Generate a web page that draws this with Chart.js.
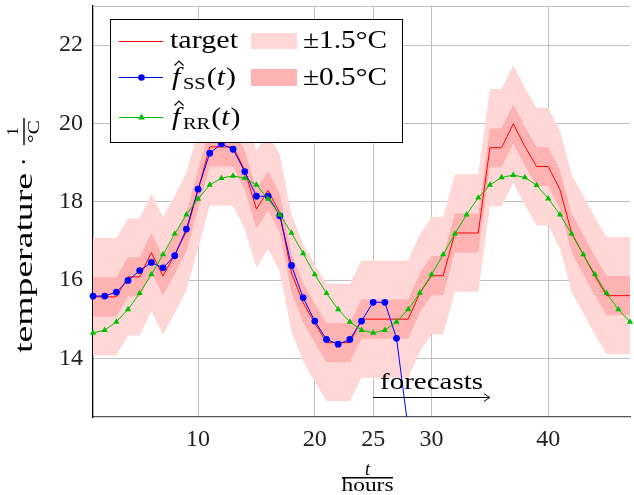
<!DOCTYPE html>
<html><head><meta charset="utf-8">
<script src="https://cdn.jsdelivr.net/npm/chart.js@4/dist/chart.umd.min.js"></script>
<style>html,body{margin:0;padding:0;background:#fff}#wrap{width:634px;height:495px}</style>
</head><body><div id="wrap"><canvas id="c" width="634" height="495"></canvas></div>
<script>
const hours = [1,2,3,4,5,6,7,8,9,10,11,12,13,14,15,16,17,18,19,20,21,22,23,24,25,26,27,28,29,30,31,32,33,34,35,36,37,38,39,40,41,42,43,44,45,46,47];
const target = [15.57,15.57,15.57,16.08,16.08,16.7,16.1,16.65,17.24,18.3,19.4,19.4,19.4,18.8,17.81,18.29,17.71,16.18,15.42,14.9,14.4,14.4,14.4,15.0,15.0,15.0,15.0,15.0,15.67,16.11,16.11,17.2,17.2,17.2,19.38,19.38,19.99,19.41,18.9,18.9,18.31,17.2,16.65,16.1,15.6,15.6,15.6];
const fSS = [15.59,15.59,15.69,15.99,16.24,16.45,16.31,16.62,17.3,18.32,19.24,19.48,19.34,18.77,18.14,18.14,17.64,16.37,15.55,14.95,14.48,14.36,14.48,14.95,15.43,15.43,14.51,12.2];
const fRR = [14.65,14.72,14.93,15.25,15.66,16.14,16.65,17.18,17.67,18.07,18.43,18.6,18.66,18.6,18.43,18.07,17.67,17.2,16.68,16.14,15.66,15.25,14.93,14.72,14.65,14.72,14.93,15.25,15.67,16.14,16.65,17.18,17.67,18.1,18.43,18.62,18.68,18.62,18.42,18.08,17.67,17.18,16.65,16.14,15.66,15.25,14.93];
const xTicks = [10,20,25,30,40];
const yTicks = [14,16,18,20,22];
const bandHalfWidths = [1.5, 0.5];
const forecastStart = 25, forecastEnd = 35, forecastLevel = 13.0;

const SERIF = "'Liberation Serif', 'Times New Roman', Times, serif";
const LIGHT = 'rgb(255,215,215)', DARK = 'rgb(255,178,178)';
const RED = '#ff0000', BLUE = '#0000ff', GREEN = 'rgb(0,190,0)';

const pts = vals => vals.map((v,i)=>({x:hours[i], y:v}));
const band = (k, sign) => target.map(v => v + sign*bandHalfWidths[k]);

function txt(ctx, s, x, y, size, opts={}) {
  ctx.font = `${opts.italic?'italic ':''}${size}px ${SERIF}`;
  const w = ctx.measureText(s).width;
  const sx = opts.w ? opts.w / w : (opts.sx || 1);
  let x0 = x;
  if (opts.align === 'center') x0 = x - w*sx/2;
  ctx.save(); ctx.translate(x0, y); ctx.scale(sx, 1);
  ctx.textAlign = 'left'; ctx.textBaseline = 'alphabetic';
  ctx.fillStyle = opts.color || '#000';
  ctx.fillText(s, 0, 0); ctx.restore();
  return w*sx;
}
function hatF(ctx, x, y, sub) {
  txt(ctx, 'f', x, y, 25, {italic:true, sx:1.2});
  ctx.save(); ctx.strokeStyle = '#000'; ctx.lineWidth = 1.2;
  ctx.beginPath(); ctx.moveTo(x+2.5, y-19.5); ctx.lineTo(x+7, y-24); ctx.lineTo(x+11.5, y-19.5); ctx.stroke(); ctx.restore();
  let cx = x + 11;
  cx += txt(ctx, sub, cx, y+4, 17, {sx:1.2});
  cx += 1;
  cx += txt(ctx, '(', cx, y, 25, {sx:1.2});
  cx += txt(ctx, 't', cx, y, 25, {italic:true, sx:1.2});
  txt(ctx, ')', cx+1, y, 25, {sx:1.2});
}

const decor = {
  id: 'decor',
  beforeDatasetsDraw(chart) {
    const {ctx, chartArea:a} = chart;
    ctx.save(); ctx.strokeStyle = '#c0c0c0'; ctx.lineWidth = 1;
    ctx.beginPath(); ctx.moveTo(a.left, a.top+0.5); ctx.lineTo(a.right, a.top+0.5); ctx.stroke();
    ctx.restore();
  },
  afterDraw(chart) {
    const {ctx, scales:{x, y}} = chart;
    ctx.save();
    const ax0 = x.getPixelForValue(forecastStart), ax1 = x.getPixelForValue(forecastEnd), ay = Math.round(y.getPixelForValue(forecastLevel))+0.5;
    ctx.strokeStyle = '#000'; ctx.lineWidth = 1;
    ctx.beginPath(); ctx.moveTo(ax0, ay); ctx.lineTo(ax1, ay); ctx.stroke();
    ctx.beginPath(); ctx.moveTo(ax1-6, ay-4); ctx.quadraticCurveTo(ax1-2, ay-1, ax1, ay); ctx.quadraticCurveTo(ax1-2, ay+1, ax1-6, ay+4); ctx.stroke();
    txt(ctx, 'forecasts', x.getPixelForValue((forecastStart+forecastEnd)/2), ay-9, 24, {align:'center', w:103});

    ctx.fillStyle = '#fff'; ctx.fillRect(110.5, 19.5, 292, 123);
    ctx.strokeStyle = '#000'; ctx.lineWidth = 1; ctx.strokeRect(110.5, 19.5, 292, 123);
    ctx.strokeStyle = RED; ctx.beginPath(); ctx.moveTo(119, 41.5); ctx.lineTo(163, 41.5); ctx.stroke();
    txt(ctx, 'target', 170, 48, 25, {w:68});
    ctx.fillStyle = LIGHT; ctx.fillRect(251, 33, 46, 16);
    txt(ctx, '±1.5°C', 303, 48, 25, {w:84});
    ctx.strokeStyle = BLUE; ctx.beginPath(); ctx.moveTo(119, 77.5); ctx.lineTo(163, 77.5); ctx.stroke();
    ctx.fillStyle = BLUE; ctx.beginPath(); ctx.arc(141.5, 77.5, 3.3, 0, Math.PI*2); ctx.fill();
    hatF(ctx, 172, 85, 'SS');
    ctx.fillStyle = DARK; ctx.fillRect(251, 69, 46, 17);
    txt(ctx, '±0.5°C', 303, 85, 25, {w:84});
    ctx.strokeStyle = GREEN; ctx.beginPath(); ctx.moveTo(119, 117.5); ctx.lineTo(163, 117.5); ctx.stroke();
    ctx.fillStyle = GREEN; ctx.beginPath(); ctx.moveTo(141.5, 113.5); ctx.lineTo(145, 119.5); ctx.lineTo(138, 119.5); ctx.closePath(); ctx.fill();
    hatF(ctx, 172, 125, 'RR');

    txt(ctx, 't', 367.5, 475, 18, {italic:true, align:'center'});
    ctx.strokeStyle = '#000'; ctx.lineWidth = 1.4;
    ctx.beginPath(); ctx.moveTo(342, 477.7); ctx.lineTo(393, 477.7); ctx.stroke();
    txt(ctx, 'hours', 367.5, 491, 18, {align:'center', w:52});

    ctx.save(); ctx.translate(32, 353); ctx.rotate(-Math.PI/2);
    txt(ctx, 'temperature', 0, 0, 25, {w:180});
    txt(ctx, '·', 187, 0, 25);
    ctx.strokeStyle = '#000'; ctx.lineWidth = 1.4;
    ctx.beginPath(); ctx.moveTo(208, -8); ctx.lineTo(235, -8); ctx.stroke();
    txt(ctx, '1', 221.5, -14, 16, {align:'center'});
    txt(ctx, '°C', 221.5, 7, 16, {align:'center', w:23});
    ctx.restore();
    ctx.restore();
  }
};

const ds = [
  {data: pts(band(0, 1)), fill: '+1', backgroundColor: LIGHT, borderWidth: 0, pointRadius: 0, order: 6},
  {data: pts(band(0, -1)), fill: false, borderWidth: 0, pointRadius: 0, order: 6},
  {data: pts(band(1, 1)), fill: '+1', backgroundColor: DARK, borderWidth: 0, pointRadius: 0, order: 5},
  {data: pts(band(1, -1)), fill: false, borderWidth: 0, pointRadius: 0, order: 5},
  {label: 'target', data: pts(target), borderColor: RED, borderWidth: 1, pointRadius: 0, fill: false, order: 3},
  {label: 'fSS', data: pts(fSS), borderColor: BLUE, backgroundColor: BLUE, borderWidth: 1, pointRadius: 3.4, pointBorderWidth: 0, pointStyle: 'circle', fill: false, order: 2, clip: {left: 6, right: 6, top: 6, bottom: 0}},
  {label: 'fRR', data: pts(fRR), borderColor: GREEN, backgroundColor: GREEN, borderWidth: 1, pointRadius: 3.6, pointBorderWidth: 0, pointStyle: 'triangle', fill: false, order: 1, clip: {left: 6, right: 6, top: 6, bottom: 0}}
];

const zeroPad = s => { s.paddingTop = 0; s.paddingBottom = 0; s.paddingLeft = 0; s.paddingRight = 0; };

new Chart(document.getElementById('c'), {
  type: 'line',
  data: {datasets: ds},
  options: {
    responsive: false, animation: false, devicePixelRatio: 1,
    layout: {padding: {top: 6, right: 2, left: 0, bottom: 0}},
    elements: {line: {tension: 0}},
    plugins: {legend: {display: false}, tooltip: {enabled: false}},
    scales: {
      x: {type: 'linear', min: 1, max: 47,
        afterBuildTicks: s => { s.ticks = xTicks.map(v => ({value: v})); },
        afterFit: s => { s.height = 78; zeroPad(s); },
        ticks: {font: {family: SERIF, size: 24}, color: '#222', padding: 8, maxRotation: 0, autoSkip: false},
        grid: {color: '#c0c0c0', drawTicks: false, lineWidth: 1},
        border: {color: '#555', width: 1.3}},
      y: {min: 12.5, max: 23,
        afterBuildTicks: s => { s.ticks = yTicks.map(v => ({value: v})); },
        afterFit: s => { s.width = 93; zeroPad(s); },
        ticks: {font: {family: SERIF, size: 24}, color: '#222', padding: 10},
        grid: {color: '#c0c0c0', drawTicks: false, lineWidth: 1},
        border: {color: '#000', width: 1.3}}
    }
  },
  plugins: [decor]
});
</script></body></html>
